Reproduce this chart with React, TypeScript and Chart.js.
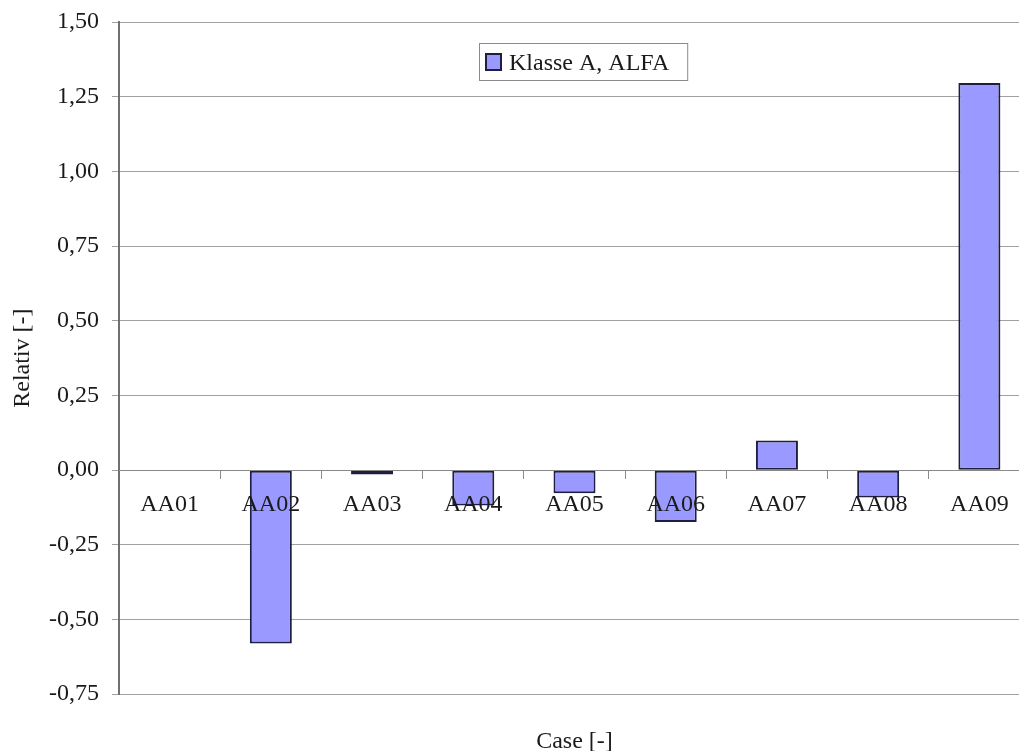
import React, { useEffect, useRef } from "react";
import { Chart, registerables } from "chart.js";

Chart.register(...registerables);

const categories = ["AA01", "AA02", "AA03", "AA04", "AA05", "AA06", "AA07", "AA08", "AA09"];
const seriesLabel = "Klasse A, ALFA";
const seriesValues = [0, -0.58, -0.015, -0.118, -0.077, -0.174, 0.099, -0.092, 1.296];
const yTickValues = [-0.75, -0.5, -0.25, 0, 0.25, 0.5, 0.75, 1, 1.25, 1.5];
const xTitle = "Case [-]";
const yTitle = "Relativ [-]";

const FONT = "'Liberation Serif', 'Times New Roman', serif";
const TEXT = "#1a1a1a";

const legendInside = {
  id: "legendInside",
  afterDraw(chart: any) {
    const ctx = chart.ctx;
    const area = chart.chartArea;
    const ds = chart.data.datasets[0];
    ctx.save();
    ctx.font = `24px ${FONT}`;
    const tw = ctx.measureText(ds.label).width;
    const x = area.left + 360;
    const y = area.top + 21;
    const h = 37;
    const w = 7 + 16 + 7 + tw + 18;
    ctx.fillStyle = "#ffffff";
    ctx.fillRect(x, y, w, h);
    ctx.strokeStyle = "#8a8a8a";
    ctx.lineWidth = 1;
    ctx.strokeRect(x + 0.5, y + 0.5, w, h);
    ctx.fillStyle = ds.backgroundColor;
    ctx.fillRect(x + 7, y + 11, 15, 16);
    ctx.strokeStyle = ds.borderColor;
    ctx.lineWidth = 2;
    ctx.strokeRect(x + 7, y + 11, 15, 16);
    ctx.fillStyle = TEXT;
    ctx.textBaseline = "middle";
    ctx.textAlign = "left";
    ctx.fillText(ds.label, x + 30, y + h / 2 + 2);
    ctx.restore();
  },
};

export default function App() {
  const ref = useRef<HTMLCanvasElement>(null);
  useEffect(() => {
    if (!ref.current) return;
    const chart = new Chart(ref.current, {
      type: "bar",
      data: {
        labels: categories,
        datasets: [
          {
            label: seriesLabel,
            data: seriesValues,
            backgroundColor: "#9999ff",
            borderColor: "#1e1e40",
            borderWidth: 2,
            borderSkipped: false,
            barPercentage: 0.415,
            categoryPercentage: 1,
          },
        ],
      },
      options: {
        responsive: false,
        animation: false,
        layout: { padding: { top: 22, right: 10, left: 0, bottom: 0 } },
        plugins: {
          legend: { display: false },
          tooltip: { enabled: false },
          title: {
            display: true,
            text: xTitle,
            position: "bottom",
            fullSize: false,
            color: TEXT,
            font: { family: FONT, size: 24, weight: "normal" },
            padding: { top: 33, bottom: 4 },
          },
        },
        scales: {
          x: {
            position: { y: 0 } as any,
            offset: true,
            grid: {
              drawOnChartArea: false,
              drawTicks: true,
              tickLength: 8,
              color: "#8a8a8a",
              offset: true,
            },
            border: { color: "#8a8a8a", width: 1, z: 1 },
            ticks: {
              z: 1,
              color: TEXT,
              padding: 12,
              maxRotation: 0,
              autoSkip: false,
              font: { family: FONT, size: 24 },
            },
          },
          y: {
            min: -0.75,
            max: 1.5,
            afterBuildTicks: (scale: any) => {
              scale.ticks = yTickValues.map((v) => ({ value: v }));
            },
            afterFit: (scale: any) => {
              scale.width = 119;
              scale.paddingTop = 0;
              scale.paddingBottom = 0;
            },
            grid: {
              color: "#a0a0a0",
              lineWidth: 1,
              tickLength: 7,
              drawTicks: true,
            },
            border: { color: "#707070", width: 2 },
            ticks: {
              color: TEXT,
              padding: 13,
              font: { family: FONT, size: 24 },
              callback: (v: any) => Number(v).toFixed(2).replace(".", ","),
            },
            title: {
              display: true,
              text: yTitle,
              color: TEXT,
              font: { family: FONT, size: 24 },
              padding: { top: 8, bottom: 0 },
            },
          },
        },
      },
      plugins: [legendInside],
    });
    return () => chart.destroy();
  }, []);
  return (
    <div style={{ position: "fixed", left: 0, top: 0, width: 1019, height: 751, overflow: "hidden", background: "#fff" }}>
      <div style={{ position: "absolute", left: 0, top: 0, width: 1040, height: 760 }}>
        <canvas ref={ref} width={1040} height={760} style={{ display: "block" }} />
      </div>
    </div>
  );
}
